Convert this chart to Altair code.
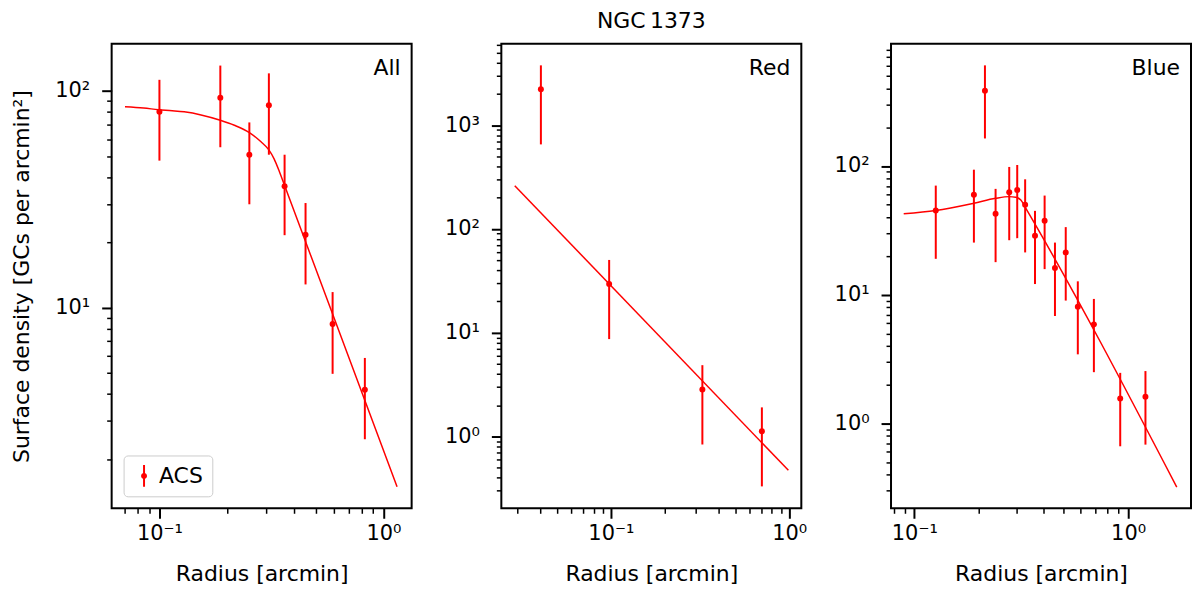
import altair as alt
import pandas as pd

RED = '#ff0000'
FONT = 'DejaVu Sans'
W, H = 301, 466

# --- All GCs ---
all_r = [0.100, 0.187, 0.252, 0.308, 0.362, 0.449, 0.593, 0.826]
all_s = [80.1, 93.0, 50.8, 86.0, 36.3, 21.7, 8.4, 4.18]
all_hi = [112.6, 131.0, 71.6, 120.6, 50.8, 30.4, 11.8, 5.86]
all_lo = [47.7, 55.0, 30.0, 50.8, 21.6, 12.8, 4.95, 2.47]
all_fit_r = [0.0702, 0.085, 0.099, 0.114, 0.129, 0.155, 0.187, 0.216, 0.252, 0.284, 0.308, 0.325, 0.343, 0.362, 0.593, 1.15]
all_fit_s = [84.5, 83.4, 82.0, 81.1, 80.1, 77.3, 73.3, 69.5, 64.3, 58.3, 53.5, 48.6, 42.5, 36.6, 9.35, 1.49]

# --- Red GCs ---
red_r = [0.0405, 0.0978, 0.326, 0.703]
red_s = [2214, 29.5, 2.84, 1.12]
red_hi = [3767, 50.2, 4.86, 1.905]
red_lo = [652, 8.67, 0.836, 0.33]
red_fit_r = [0.0289, 0.99]
red_fit_s = [261, 0.471]

# --- Blue GCs ---
blue_r = [0.126, 0.190, 0.214, 0.240, 0.278, 0.303, 0.330, 0.367, 0.407, 0.455, 0.511, 0.582, 0.692, 0.919, 1.206]
blue_s = [45.1, 59.7, 385, 42.5, 62.5, 65.2, 49.9, 28.7, 37.5, 16.1, 21.3, 8.06, 5.88, 1.56, 1.61]
blue_hi = [70.4, 93.6, 605, 66.4, 98.3, 101.8, 78.8, 44.8, 58.9, 25.4, 33.5, 12.7, 9.27, 2.47, 2.55]
blue_lo = [19.0, 25.4, 163.6, 17.9, 26.5, 27.5, 21.3, 12.1, 15.8, 6.83, 9.0, 3.44, 2.50, 0.664, 0.684]
blue_fit_r = [0.0892, 0.126, 0.190, 0.240, 0.278, 0.298, 0.315, 0.332, 1.69]
blue_fit_s = [42.5, 45.1, 51.4, 56.1, 57.8, 57.1, 54.5, 47.0, 0.32]

IS_MAJOR = "abs(log(datum.value)/LN10 - round(log(datum.value)/LN10)) < 0.001"
LABEL = (IS_MAJOR + " ? '10' + ['\u207b\u00b3','\u207b\u00b2','\u207b\u00b9','\u2070','\u00b9','\u00b2','\u00b3','\u2074']"
         "[round(log(datum.value)/LN10) + 3] : ''")


def log_ticks(lo, hi):
    vals = []
    for e in range(-3, 5):
        for m in range(1, 10):
            v = round(m * 10 ** e, 6)
            if lo <= v <= hi:
                vals.append(v)
    return vals


def make_axis(dom, title, pad, **kw):
    return alt.Axis(values=log_ticks(*dom), title=title, labelExpr=LABEL,
                    labelOverlap=False, labelFlush=False,
                    tickSize={'condition': {'test': IS_MAJOR, 'value': 10}, 'value': 5},
                    tickWidth={'condition': {'test': IS_MAJOR, 'value': 2}, 'value': 1.5},
                    labelPadding=pad, **kw)


# legend glyph: errorbar + dot, drawn as one filled path
GLYPH = ("M-0.09,-1L0.09,-1L0.09,1L-0.09,1Z"
         "M-0.27,0A0.27,0.27,0,1,1,0.27,0A0.27,0.27,0,1,1,-0.27,0Z")


def panel(name, r, s, lo, hi, fit_r, fit_s, xdom, ydom, ytitle, legend=False):
    pts = pd.DataFrame({'r': r, 's': s, 'lo': lo, 'hi': hi, 'series': 'ACS'})
    fit = pd.DataFrame({'r': fit_r, 's': fit_s})
    xs = alt.Scale(type='log', domain=xdom, nice=False)
    ys = alt.Scale(type='log', domain=ydom, nice=False)
    xa = make_axis(xdom, 'Radius [arcmin]', 4, titlePadding=20)
    if ytitle:
        ya = make_axis(ydom, ytitle, 12, titlePadding=21, minExtent=57, maxExtent=57)
    else:
        ya = make_axis(ydom, '', 12)
    x = alt.X('r:Q', scale=xs, axis=xa)

    line = alt.Chart(fit).mark_line(color=RED, strokeWidth=1.5, interpolate='monotone').encode(
        x=x, y=alt.Y('s:Q', scale=ys, axis=ya))
    bars = alt.Chart(pts).mark_rule(color=RED, strokeWidth=2).encode(
        x=x, y=alt.Y('lo:Q', scale=ys, axis=ya), y2='hi:Q')
    if legend:
        col = alt.Color('series:N', scale=alt.Scale(domain=['ACS'], range=[RED]), title=None,
                        legend=alt.Legend(orient='bottom-left', offset=12, symbolType=GLYPH,
                                          symbolSize=484, symbolFillColor=RED, symbolStrokeWidth=0,
                                          symbolOpacity=1, labelFontSize=22, labelFont=FONT,
                                          labelColor='black', labelOffset=4, padding=9.5,
                                          fillColor='white', strokeColor='#cccccc',
                                          cornerRadius=4))
    else:
        col = alt.value(RED)
    dots = alt.Chart(pts).mark_circle(size=36, opacity=1).encode(
        x=x, y=alt.Y('s:Q', scale=ys, axis=ya), color=col)
    tag = alt.Chart(pd.DataFrame({'name': [name]})).mark_text(
        align='right', baseline='alphabetic', fontSize=22, font=FONT, color='black'
    ).encode(x=alt.value(W - 11), y=alt.value(31), text='name:N')
    return alt.layer(line, bars, dots, tag).properties(width=W, height=H)


p1 = panel('All', all_r, all_s, all_lo, all_hi, all_fit_r, all_fit_s,
           [0.0612, 1.336], [1.186, 165], 'Surface density [GCs per arcmin\u00b2]', legend=True)
p2 = panel('Red', red_r, red_s, red_lo, red_hi, red_fit_r, red_fit_s,
           [0.0243, 1.17], [0.203, 6070], '').properties(
    title=alt.TitleParams('NGC\u20091373', frame='group', offset=0, fontSize=22,
                          font=FONT, fontWeight='normal', color='black'))
p3 = panel('Blue', blue_r, blue_s, blue_lo, blue_hi, blue_fit_r, blue_fit_s,
           [0.0778, 1.97], [0.219, 889], '')

chart = alt.hconcat(p1, p2, p3, spacing=90, bounds='flush').resolve_scale(
    color='independent'
).resolve_legend(color='independent').properties(
    padding={'left': 2, 'top': 0, 'right': 0, 'bottom': 0}
).configure_view(stroke='black', strokeWidth=2
).configure_axis(domain=False, grid=False, labelFont=FONT, titleFont=FONT,
                 labelFontSize=21, titleFontSize=22, labelColor='black',
                 titleColor='black', tickColor='black', titleFontWeight='normal')

chart.save("out.html", embed_options={"renderer": "svg", "actions": False})
